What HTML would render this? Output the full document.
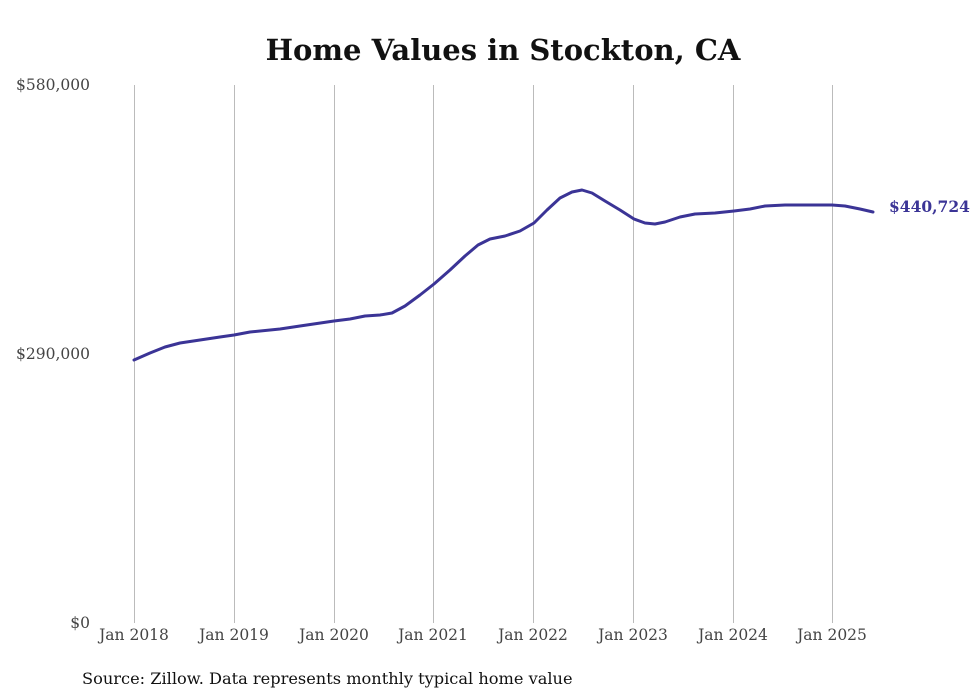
<!DOCTYPE html>
<html><head><meta charset="utf-8"><style>
body{margin:0;background:#fff;}
svg{display:block;font-family:"DejaVu Serif","Liberation Serif",serif;}
</style></head><body>
<svg width="980" height="699" viewBox="0 0 980 699">
<rect width="980" height="699" fill="#fff"/>
<text x="503" y="60" text-anchor="middle" font-size="29" font-weight="bold" fill="#111">Home Values in Stockton, CA</text>
<g stroke="#bbb" stroke-width="1">
<line x1="134.5" y1="85" x2="134.5" y2="623"/>
<line x1="234.5" y1="85" x2="234.5" y2="623"/>
<line x1="334.5" y1="85" x2="334.5" y2="623"/>
<line x1="433.5" y1="85" x2="433.5" y2="623"/>
<line x1="533.5" y1="85" x2="533.5" y2="623"/>
<line x1="633.5" y1="85" x2="633.5" y2="623"/>
<line x1="733.5" y1="85" x2="733.5" y2="623"/>
<line x1="832.5" y1="85" x2="832.5" y2="623"/>
</g>
<g font-size="15.5" fill="#444" text-anchor="end">
<text x="90" y="90">$580,000</text>
<text x="90" y="359">$290,000</text>
<text x="90" y="628">$0</text>
</g>
<g font-size="15.5" fill="#444" text-anchor="middle">
<text x="134" y="640">Jan 2018</text>
<text x="234" y="640">Jan 2019</text>
<text x="334" y="640">Jan 2020</text>
<text x="433" y="640">Jan 2021</text>
<text x="533" y="640">Jan 2022</text>
<text x="633" y="640">Jan 2023</text>
<text x="733" y="640">Jan 2024</text>
<text x="832" y="640">Jan 2025</text>
</g>
<polyline fill="none" stroke="#3b3496" stroke-width="3" stroke-linejoin="round" stroke-linecap="round" points="134,360 150,353 165,347 180,343 200,340 220,337 234,335 250,332 280,329 300,326 334,321 350,319 365,316 380,315 392,313 405,306 420,295 434,284 450,270 465,256 478,245 490,239 505,236 520,231 534,223 547,210 560,198 572,192 582,190 592,193 605,201 620,210 634,219 645,223 655,224 665,222 680,217 695,214 715,213 734,211 750,209 765,206 785,205 810,205 832,205 845,206 860,209 873,212"/>
<text x="889" y="212" font-size="15.5" font-weight="bold" fill="#3b3496">$440,724</text>
<text x="82" y="684" font-size="16.2" fill="#111">Source: Zillow. Data represents monthly typical home value</text>
</svg>
</body></html>
